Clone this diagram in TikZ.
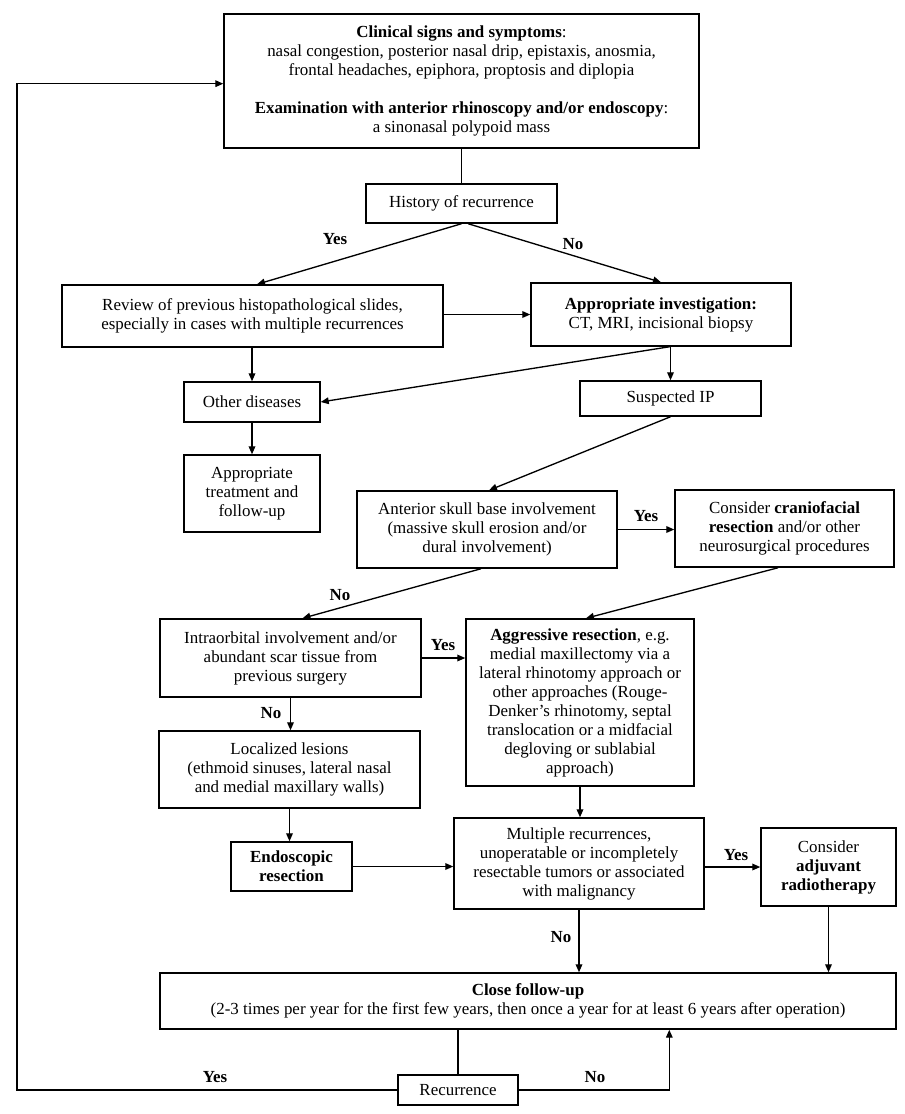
\documentclass[tikz,border=0pt]{standalone}
\usepackage{fontspec}
\setmainfont{Liberation Serif}
\usetikzlibrary{arrows.meta,calc}
\begin{document}
\begin{tikzpicture}[x=0.75pt,y=-0.75pt]
\tikzset{
 box/.style={draw, line width=1.1pt, inner sep=0pt, align=center, font=\fontsize{12.7}{14.25}\selectfont},
 arr/.style={line width=1pt, -{Triangle[length=6pt,width=5pt]}},
 ln/.style={line width=1pt},
 lbl/.style={font=\fontsize{12.7}{14.25}\selectfont\bfseries, inner sep=0pt},
 sz/.style 2 args={minimum width=#1*0.75pt, minimum height=#2*0.75pt}
}
\path[use as bounding box] (0,0) rectangle (905,1114);

\node[box, sz={475}{134}] (top) at (461.5,81) {\textbf{Clinical signs and symptoms}:\\ nasal congestion, posterior nasal drip, epistaxis, anosmia,\\ frontal headaches, epiphora, proptosis and diplopia\\[14.25pt] \textbf{Examination with anterior rhinoscopy and/or endoscopy}:\\ a sinonasal polypoid mass};
\node[box, sz={191}{39}] (hist) at (461.5,203.5) {History of recurrence};
\node[box, sz={381}{62}] (review) at (252.5,316) {Review of previous histopathological slides,\\ especially in cases with multiple recurrences};
\node[box, sz={260}{63}] (app) at (661,314.5) {\textbf{Appropriate investigation:}\\ CT, MRI, incisional biopsy};
\node[box, sz={136}{40}] (other) at (252,402) {Other diseases};
\node[box, sz={181}{35}] (susp) at (670.5,398.5) {Suspected IP};
\node[box, sz={136}{77}] (treat) at (252,493.5) {Appropriate\\ treatment and\\ follow-up};
\node[box, sz={260}{77}] (ant) at (487,529.5) {Anterior skull base involvement\\ (massive skull erosion and/or\\ dural involvement)};
\node[box, sz={219}{77}] (cranio) at (784.5,528.5) {Consider \textbf{craniofacial}\\ \textbf{resection} and/or other\\ neurosurgical procedures};
\node[box, sz={261}{78}] (intra) at (290.5,658) {Intraorbital involvement and/or\\ abundant scar tissue from\\ previous surgery};
\node[box, sz={228}{167}] (aggr) at (580,702.5) {\textbf{Aggressive resection}, e.g.\\ medial maxillectomy via a\\ lateral rhinotomy approach or\\ other approaches (Rouge-\\ Denker’s rhinotomy, septal\\ translocation or a midfacial\\ degloving or sublabial\\ approach)};
\node[box, sz={261}{77}] (local) at (289.5,769.5) {Localized lesions\\ (ethmoid sinuses, lateral nasal\\ and medial maxillary walls)};
\node[box, sz={121}{49}] (endo) at (291.5,866.5) {\textbf{Endoscopic}\\ \textbf{resection}};
\node[box, sz={250}{91}] (multi) at (579,863.5) {Multiple recurrences,\\ unoperatable or incompletely\\ resectable tumors or associated\\ with malignancy};
\node[box, sz={135}{78}] (adj) at (828.5,867) {Consider\\ \textbf{adjuvant}\\ \textbf{radiotherapy}};
\node[box, sz={736}{56}] (close) at (528,1001) {\textbf{Close follow-up}\\ (2-3 times per year for the first few years, then once a year for at least 6 years after operation)};
\node[box, sz={120}{30}] (recur) at (458,1090) {Recurrence};

\coordinate (loopL) at (17,1090);

% connectors
\draw[ln] (top.south) -- (hist.north);
\draw[arr] (hist.south) -- ([xshift=3.4pt]review.north);
\draw[arr] ([xshift=5pt]hist.south) -- (app.north);
\draw[arr] (app.west -| review.east) -- (app.west);
\draw[arr] (review.south -| other.north) -- (other.north);
\draw[arr] ([xshift=6.5pt]app.south) -- (other.east);
\draw[arr] (susp.north |- app.south) -- (susp.north);
\draw[arr] (other.south) -- (treat.north);
\draw[arr] (susp.south) -- ([xshift=1.5pt]ant.north);
\draw[arr] (ant.east) -- (cranio.west |- ant.east);
\draw[arr] ([xshift=-4.5pt]ant.south) -- ([xshift=9pt]intra.north);
\draw[arr] ([xshift=-4.8pt]cranio.south) -- ([xshift=4.5pt]aggr.north);
\draw[arr] (intra.east) -- (aggr.west |- intra.east);
\draw[arr] (intra.south) -- (intra.south |- local.north);
\draw[arr] (local.south) -- (endo.north -| local.south);
\draw[arr] (aggr.south) -- (aggr.south |- multi.north);
\draw[arr] (endo.east) -- (multi.west |- endo.east);
\draw[arr] (multi.east |- adj.west) -- (adj.west);
\draw[arr] (multi.south) -- (close.north -| multi.south);
\draw[arr] (adj.south) -- (close.north -| adj.south);
\draw[ln] (close.south -| recur.north) -- (recur.north);
\draw[arr] (recur.east) -| ($(close.south west)!0.6916!(close.south east)$);
\draw[arr] (recur.west) -- (loopL) |- ([yshift=-2pt]top.west);

% labels
\node[lbl] (lyes1) at (335,239) {Yes};
\node[lbl] (lno1) at (573,244) {No};
\node[lbl] (lyes2) at (646,516) {Yes};
\node[lbl] (lno2) at (340,595) {No};
\node[lbl] (lyes3) at (443,645) {Yes};
\node[lbl] (lno3) at (271,713) {No};
\node[lbl] (lyes4) at (736,855) {Yes};
\node[lbl] (lno4) at (561,937) {No};
\node[lbl] (lyes5) at (215,1077) {Yes};
\node[lbl] (lno5) at (595,1077) {No};
\end{tikzpicture}
\end{document}
